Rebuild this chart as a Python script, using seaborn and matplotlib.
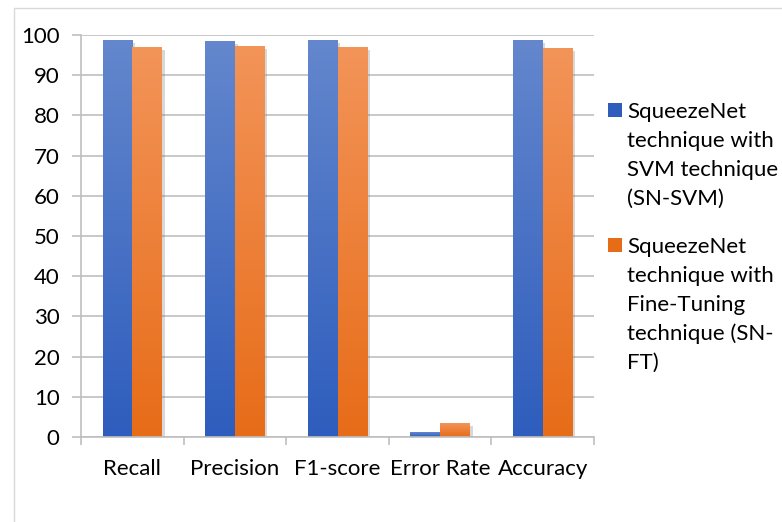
import numpy as np
import pandas as pd
import matplotlib
matplotlib.use("Agg")
import matplotlib.pyplot as plt
from matplotlib.colors import LinearSegmentedColormap
from matplotlib.patches import Rectangle
import matplotlib.patheffects as pe
import seaborn as sns

# data
metrics = ["Recall", "Precision", "F1-score", "Error Rate", "Accuracy"]
sn_svm = [98.8, 98.5, 98.8, 1.2, 98.8]
sn_ft = [97.0, 97.3, 97.0, 3.4, 96.8]
series = ["SN-SVM", "SN-FT"]
legend_labels = [
    "SqueezeNet\ntechnique with\nSVM technique\n(SN-SVM)",
    "SqueezeNet\ntechnique with\nFine-Tuning\ntechnique (SN-\nFT)",
]
y_ticks = [0, 10, 20, 30, 40, 50, 60, 70, 80, 90, 100]

df = pd.DataFrame({
    "Metric": metrics * 2,
    "Value": sn_svm + sn_ft,
    "Model": [series[0]] * len(metrics) + [series[1]] * len(metrics),
})

sns.set_theme(style="white")
plt.rcParams["font.family"] = ["Lato", "DejaVu Sans"]
FS = 16

W, H = 782, 522
fig = plt.figure(figsize=(W / 100, H / 100), dpi=100)
ax = fig.add_axes([81 / W, 1 - 437 / H, (594 - 81) / W, (437 - 35) / H])

base = {"SN-SVM": "#4472c4", "SN-FT": "#ed7d31"}
grads = {
    "SN-SVM": ("#2e5dbd", "#6487cd"),
    "SN-FT": ("#e76c18", "#f39459"),
}

sns.barplot(data=df, x="Metric", y="Value", hue="Model", hue_order=series,
            order=metrics, palette=base, width=0.58, gap=0, ax=ax,
            legend=False, linewidth=0)

# gradient fill for each bar, clipped to the bar shape
for i, patch in enumerate(ax.patches):
    model = series[i // len(metrics)]
    cmap = LinearSegmentedColormap.from_list(model, grads[model])
    x, y = patch.get_x(), patch.get_y()
    w, h = patch.get_width(), patch.get_height()
    patch.set_facecolor("#999999")
    patch.set_path_effects([pe.SimplePatchShadow(offset=(2, -2), shadow_rgbFace="#808080", alpha=0.3),
                            pe.Normal()])
    grad = np.linspace(0, 1, 256).reshape(-1, 1)
    im = ax.imshow(grad, extent=[x, x + w, y, y + h], origin="lower",
                   aspect="auto", cmap=cmap, zorder=patch.get_zorder() + 0.1)
    im.set_clip_path(patch)

ax.set_ylim(0, 100)
ax.set_xlim(-0.5, len(metrics) - 0.5)

grid_c = "#bfbfbf"
ax.set_yticks(y_ticks)
ax.yaxis.grid(True, color=grid_c, linewidth=1.2)
ax.set_axisbelow(True)
ax.tick_params(axis="y", length=6.5, width=1.2, color=grid_c, pad=9,
               labelsize=FS, labelcolor="black", left=True)
ax.set_xticks(range(len(metrics)))
ax.set_xticklabels(metrics)
ax.set_xticks(np.arange(-0.5, len(metrics)), minor=True)
ax.tick_params(axis="x", which="major", length=0, pad=16, labelsize=FS,
               labelcolor="black")
ax.tick_params(axis="x", which="minor", length=6, width=1.2, color=grid_c,
               bottom=True)
ax.set_xlabel("")
ax.set_ylabel("")
for s in ["top", "right"]:
    ax.spines[s].set_visible(False)
for s in ["left", "bottom"]:
    ax.spines[s].set_color(grid_c)
    ax.spines[s].set_linewidth(1.2)

# outer chart frame
fig.add_artist(Rectangle((14 / W, -0.1), 1.2, 1 - 8 / H + 0.1,
                         transform=fig.transFigure, fill=False,
                         edgecolor="#d9d9d9", linewidth=1))

# legend, Excel style: square aligned with the first line
entry_first_line = [110, 245]
line_gap = 29
for model, lab, y0 in zip(series, legend_labels, entry_first_line):
    fig.add_artist(Rectangle((608 / W, 1 - (y0 + 7) / H), 14 / W, 14 / H,
                             transform=fig.transFigure,
                             facecolor=grads[model][0], edgecolor="none"))
    for k, line in enumerate(lab.split("\n")):
        yc = y0 + k * line_gap
        fig.text(627 / W, 1 - (yc + 8) / H, line, fontsize=FS,
                 va="baseline", ha="left", color="black")

fig.savefig("out.png", dpi=100)
